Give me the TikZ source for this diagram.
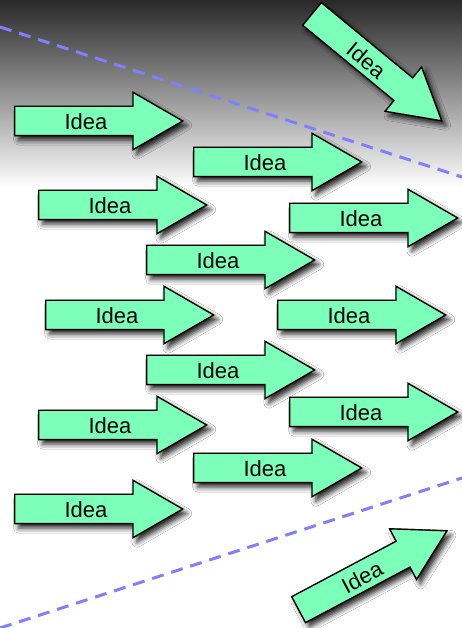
\documentclass[tikz,border=0pt]{standalone}
\usepackage{fontspec}
\setmainfont{Liberation Sans}
\usetikzlibrary{shapes.arrows,shadows.blur}

\definecolor{ideagreen}{RGB}{124,255,184}
\definecolor{dashblue}{RGB}{128,128,255}

\tikzset{
	idea/.style={single arrow, draw=black, line width=1.4pt, fill=ideagreen,
		minimum height=168pt, single arrow head extend=14pt,
		single arrow tip angle=60, inner ysep=0pt, inner xsep=2pt,
		text height=23pt, text depth=5pt, anchor=tail,
		font=\fontsize{22}{22}\selectfont,
		blur shadow={shadow xshift=4pt, shadow yshift=-4.5pt,
			shadow blur radius=5pt, shadow opacity=85}},
	guide/.style={dashblue, line width=3pt, dash pattern=on 12pt off 8pt}
}

\begin{document}
\begin{tikzpicture}[x=1pt,y=1pt]

	\useasboundingbox (0,0) rectangle (462,628);
	\fill[white] (0,0) rectangle (462,628);
	\shade[top color=black!84, bottom color=white] (0,440) rectangle (462,628);

	\coordinate (g1) at (0,601);
	\coordinate (g2) at (462,451);
	\coordinate (g3) at (0,0);
	\coordinate (g4) at (462,150);
	\draw[guide] (g1) -- (g2);
	\draw[guide] (g3) -- (g4);

	\node[idea] (idea1) at (14,507) {Idea};
	\node[idea] (idea2) at (193,466) {Idea};
	\node[idea] (idea3) at (38,423) {Idea};
	\node[idea] (idea4) at (289,410) {Idea};
	\node[idea] (idea5) at (146,368) {Idea};
	\node[idea] (idea6) at (45,313) {Idea};
	\node[idea] (idea7) at (277,313) {Idea};
	\node[idea] (idea8) at (146,258) {Idea};
	\node[idea] (idea9) at (289,216) {Idea};
	\node[idea] (idea10) at (38,203) {Idea};
	\node[idea] (idea11) at (193,160) {Idea};
	\node[idea] (idea12) at (14,119) {Idea};

	\node[idea, rotate=-39.5] (idea13) at (311.5,614.5) {Idea};
	\node[idea, rotate=28] (idea14) at (298,18) {Idea};

\end{tikzpicture}
\end{document}
